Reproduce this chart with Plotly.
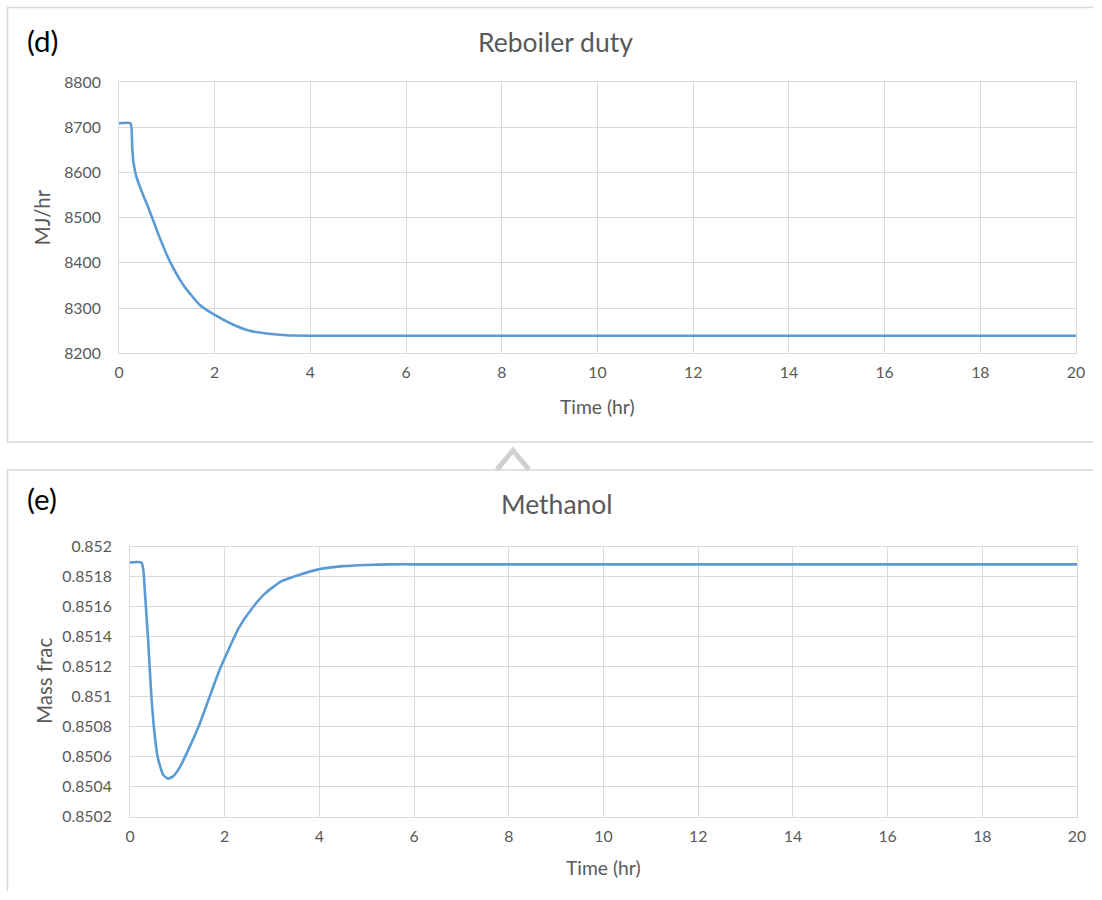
import plotly.graph_objects as go

W, H = 1102, 900

# ---- data ----
duty_time = [0, 0.24, 0.275, 0.30, 0.36, 0.47, 0.64, 0.85, 1.06, 1.34, 1.69, 2.0,
             2.38, 2.73, 3.08, 3.5, 4.0, 5.0, 6.0, 8, 10, 12, 14, 16, 18, 20]
duty_vals = [8709, 8709, 8656, 8624, 8592, 8559, 8515, 8456, 8404, 8352, 8307, 8285,
             8264, 8250, 8244, 8240, 8239, 8239, 8239, 8239, 8239, 8239, 8239, 8239, 8239, 8239]

meoh_time = [0, 0.24, 0.28, 0.31, 0.38, 0.45, 0.52, 0.59, 0.70, 0.80, 0.91, 1.05, 1.25,
             1.46, 1.67, 1.88, 2.09, 2.30, 2.58, 2.86, 3.2, 3.55, 4.0, 4.5, 5.0, 5.5, 6,
             8, 10, 12, 14, 16, 18, 20]
meoh_vals = [0.851894, 0.851894, 0.85185, 0.85172, 0.85139, 0.85101, 0.85075, 0.85059,
             0.85048, 0.850455, 0.85047, 0.85053, 0.85066, 0.85081, 0.85099, 0.85117,
             0.85132, 0.85146, 0.85159, 0.85169, 0.85177, 0.85181, 0.85185, 0.851870,
             0.851878, 0.851882, 0.851882, 0.851882, 0.851882, 0.851882, 0.851882,
             0.851882, 0.851882, 0.851882]

x_ticks = [0, 2, 4, 6, 8, 10, 12, 14, 16, 18, 20]
duty_ticks = [8200, 8300, 8400, 8500, 8600, 8700, 8800]
meoh_ticks = [0.8502, 0.8504, 0.8506, 0.8508, 0.851, 0.8512, 0.8514, 0.8516, 0.8518, 0.852]
meoh_tick_text = ["0.8502", "0.8504", "0.8506", "0.8508", "0.851", "0.8512",
                  "0.8514", "0.8516", "0.8518", "0.852"]

LINE = "#5b9bd5"
GRID = "#d9d9d9"
TXT = "#595959"
FONT = "Lato"

# the captured page is slightly rescaled; layout positions below are given in
# reference-picture pixels and converted to paper fractions
SX, BX = 1088 / 1102, 5.0
SY, BY = 880 / 900, 10.0
FS = 1 / 0.982

def px(x):
    return ((x - BX) / SX) / W

def py(y):
    return 1 - ((y - BY) / SY) / H

def fs(s):
    return round(s * FS, 1)

fig = go.Figure()
fig.add_trace(go.Scatter(x=duty_time, y=duty_vals, mode="lines",
                         line=dict(color=LINE, width=2.6, shape="spline", smoothing=0.5),
                         xaxis="x", yaxis="y", showlegend=False))
fig.add_trace(go.Scatter(x=meoh_time, y=meoh_vals, mode="lines",
                         line=dict(color=LINE, width=2.6, shape="spline", smoothing=0.5),
                         xaxis="x2", yaxis="y2", showlegend=False))

axcommon = dict(showgrid=True, gridcolor=GRID, gridwidth=1, zeroline=False,
                showline=True, linecolor=GRID, linewidth=1, mirror=True,
                ticks="", tickfont=dict(family=FONT, size=fs(15.5), color=TXT))

fig.update_layout(
    width=W, height=H, margin=dict(l=0, r=0, t=0, b=0),
    paper_bgcolor="white", plot_bgcolor="white",
    xaxis=dict(domain=[px(119), px(1076)], range=[0, 20], tickvals=x_ticks,
               anchor="y", ticklabelstandoff=5, **axcommon),
    yaxis=dict(domain=[py(353), py(82)], range=[8200, 8800], tickvals=duty_ticks,
               anchor="x", ticklabelstandoff=14, **axcommon),
    xaxis2=dict(domain=[px(130), px(1077)], range=[0, 20], tickvals=x_ticks,
                anchor="y2", ticklabelstandoff=5, **axcommon),
    yaxis2=dict(domain=[py(816), py(546)], range=[0.8502, 0.852], tickvals=meoh_ticks,
                ticktext=meoh_tick_text, anchor="x2", ticklabelstandoff=14, **axcommon),
)

ann = []
def text(x, y, s, size, color=TXT, angle=0):
    ann.append(dict(x=px(x), y=py(y), xref="paper", yref="paper", text=s,
                    showarrow=False, textangle=angle, xanchor="center", yanchor="middle",
                    font=dict(family=FONT, size=fs(size), color=color)))

text(42, 40, "(d)", 29, color="#000000")
text(556, 42, "Reboiler duty", 26)
text(42, 217, "MJ/hr", 20, angle=-90)
text(597, 406, "Time (hr)", 19)

text(42, 498, "(e)", 29, color="#000000")
text(557, 503, "Methanol", 26)
text(44, 680, "Mass frac", 20, angle=-90)
text(603, 867, "Time (hr)", 19)
fig.update_layout(annotations=ann)

shapes = [
    # top chart frame
    dict(type="path", path=f"M 1,{py(7.5)} L {px(7.5)},{py(7.5)} L {px(7.5)},{py(441.5)} L 1,{py(441.5)}",
         xref="paper", yref="paper", line=dict(color="#d9d9d9", width=1.5)),
    # bottom chart frame
    dict(type="path", path=f"M 1,{py(469.5)} L {px(7.5)},{py(469.5)} L {px(7.5)},0",
         xref="paper", yref="paper", line=dict(color="#d9d9d9", width=1.5)),
    # caret
    dict(type="path", path=f"M {px(497)},{py(469)} L {px(513)},{py(450)} L {px(529)},{py(469)}",
         xref="paper", yref="paper", line=dict(color="#d0d0d0", width=5)),
]
fig.update_layout(shapes=shapes)

fig.write_html("out.html", config={"displayModeBar": False},
               post_script="document.body.style.margin='0';document.body.style.overflow='hidden';")
